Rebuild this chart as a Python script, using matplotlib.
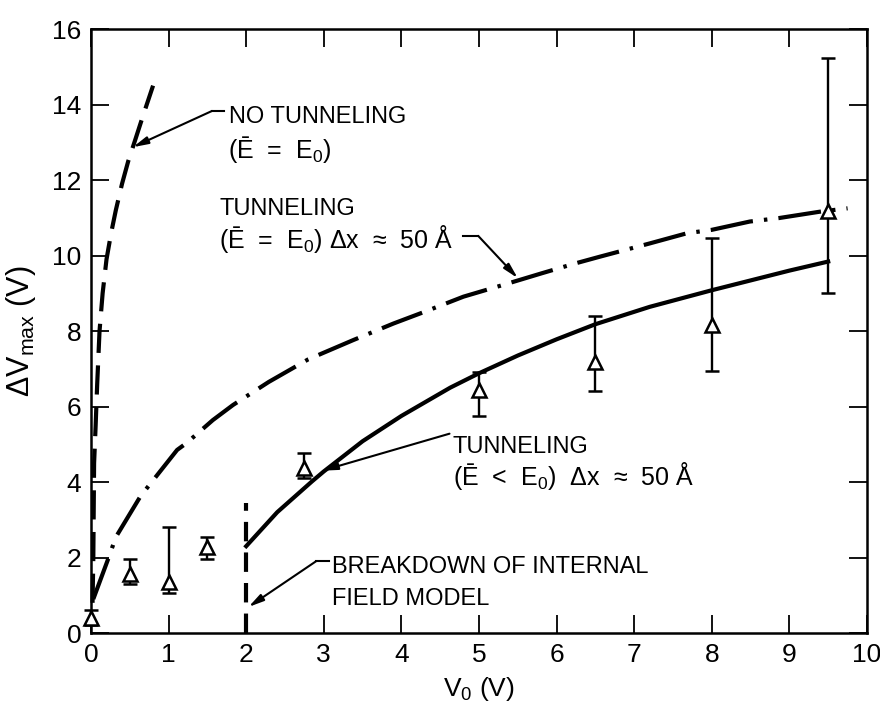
import matplotlib
matplotlib.use('Agg')
import matplotlib.pyplot as plt

plt.rcParams['font.family'] = ['Liberation Sans', 'DejaVu Sans']
plt.rcParams['lines.scale_dashes'] = False
plt.rcParams['mathtext.fontset'] = 'custom'
plt.rcParams['mathtext.rm'] = 'Liberation Sans'
plt.rcParams['mathtext.it'] = 'Liberation Sans'

# ---- measured points (V0, dVmax) with error bar limits ----
meas_v0 = [0.0, 0.5, 1.0, 1.5, 2.75, 5.0, 6.5, 8.0, 9.5]
meas_dv = [0.40, 1.57, 1.36, 2.27, 4.37, 6.44, 7.19, 8.16, 11.19]
meas_lo = [0.20, 1.29, 1.05, 1.97, 4.11, 5.75, 6.42, 6.95, 9.00]
meas_hi = [0.62, 1.97, 2.80, 2.55, 4.77, 6.92, 8.41, 10.46, 15.22]

# ---- no tunneling (E = E0), dashed ----
notun_v0 = [0.02, 0.03, 0.04, 0.06, 0.08, 0.11, 0.15, 0.20, 0.26, 0.32, 0.40, 0.48, 0.56, 0.67, 0.80]
notun_dv = [0.8, 2.0, 4.5, 5.5, 6.6, 8.0, 9.0, 9.9, 10.6, 11.2, 11.9, 12.5, 13.0, 13.7, 14.5]

# ---- tunneling (E = E0) dx ~ 50 A, dash-dot ----
tun_eq_v0 = [0.03, 0.23, 0.32, 0.64, 1.11, 1.23, 1.57, 1.83, 2.29, 2.8, 3.38, 3.9, 4.3, 4.8, 5.31,
             5.81, 6.24, 6.56, 7.2, 7.68, 8.0, 8.49, 8.86, 9.39, 9.75]
tun_eq_dv = [0.9, 2.01, 2.54, 3.63, 4.85, 5.03, 5.64, 6.04, 6.65, 7.25, 7.76, 8.2, 8.51, 8.91, 9.22,
             9.53, 9.79, 9.97, 10.32, 10.59, 10.68, 10.9, 10.99, 11.16, 11.25]

# ---- tunneling (E < E0) dx ~ 50 A, solid ----
tun_lt_v0 = [2.0, 2.4, 2.85, 3.0, 3.5, 4.0, 4.63, 5.0, 5.5, 6.0, 6.5, 7.2, 8.0, 9.0, 9.5]
tun_lt_dv = [2.3, 3.2, 4.02, 4.28, 5.08, 5.75, 6.5, 6.88, 7.35, 7.78, 8.18, 8.64, 9.08, 9.6, 9.84]

# ---- breakdown of internal field model ----
brk_v0 = [2.0, 2.0]
brk_dv = [0.0, 3.45]

xticks = list(range(0, 11))
yticks = list(range(0, 17, 2))

FS = 18      # formula lines
FSC = 17     # all-caps annotation lines
FST = 19     # tick labels

fig = plt.figure(figsize=(8.8, 7.13), dpi=100)
ax = fig.add_axes([0.1034, 0.1122, 0.8818, 0.8471])
ax.set_xlim(0, 10)
ax.set_ylim(0, 16)

dash_style = (0, (21, 9))
dashdot_style = (0, (31, 8, 2.5, 8))

ax.plot(notun_v0, notun_dv, color='black', lw=3.0, linestyle=dash_style, clip_on=False)
ax.plot(tun_eq_v0, tun_eq_dv, color='black', lw=3.0, linestyle=dashdot_style)
ax.plot(tun_lt_v0, tun_lt_dv, color='black', lw=3.0, linestyle='-')
ax.plot(brk_v0, brk_dv, color='black', lw=3.0, linestyle=(0, (14, 8)))

yerr_lo = [d - l for d, l in zip(meas_dv, meas_lo)]
yerr_hi = [h - d for d, h in zip(meas_dv, meas_hi)]
ax.errorbar(meas_v0, meas_dv, yerr=[yerr_lo, yerr_hi], fmt='^', color='black',
            markerfacecolor='white', markeredgecolor='black', markersize=10,
            markeredgewidth=1.8, elinewidth=1.7, capsize=5, capthick=2.2,
            ecolor='black', clip_on=False, zorder=5)

# spines and ticks
for s in ax.spines.values():
    s.set_linewidth(1.8)
ax.set_xticks(xticks)
ax.set_yticks(yticks)
ax.tick_params(axis='both', which='major', direction='in', length=13, width=1.3,
               labelsize=FST, pad=7, top=True, right=True)
ax.set_xticklabels([str(v) for v in xticks])
ax.set_yticklabels([str(v) for v in yticks])

ax.set_xlabel('V$_\\mathregular{0}$ (V)', fontsize=FST, labelpad=6)
ax.set_ylabel('ΔV$_\\mathregular{max}$ (V)', fontsize=22, labelpad=10)

E0 = 'E$_\\mathregular{0}$'
# annotations
ax.text(1.78, 13.51, 'NO TUNNELING', fontsize=FSC, va='baseline', ha='left')
ax.text(1.77, 12.58, '(Ē  =  ' + E0 + ')', fontsize=FS, va='baseline', ha='left')
ax.text(1.66, 11.07, 'TUNNELING', fontsize=FSC, va='baseline', ha='left')
ax.text(1.65, 10.20, '(Ē  =  ' + E0 + ') Δx  ≈  50 Å', fontsize=FS, va='baseline', ha='left')
ax.text(4.66, 4.77, 'TUNNELING', fontsize=FSC, va='baseline', ha='left')
ax.text(4.66, 3.92, '(Ē  <  ' + E0 + ')  Δx  ≈  50 Å', fontsize=FS, va='baseline', ha='left')
ax.text(3.11, 1.59, 'BREAKDOWN OF INTERNAL', fontsize=FSC, va='baseline', ha='left')
ax.text(3.11, 0.74, 'FIELD MODEL', fontsize=FSC, va='baseline', ha='left')

arrow_kw = dict(arrowstyle='-|>,head_length=0.9,head_width=0.22', color='black', lw=1.5,
                shrinkA=0, shrinkB=0)

# NO TUNNELING leader
ax.plot([1.56, 1.71], [13.83, 13.83], color='black', lw=1.5)
ax.annotate('', xy=(0.54, 12.87), xytext=(1.56, 13.83), arrowprops=arrow_kw)
# TUNNELING (E=E0) leader
ax.plot([4.79, 4.99], [10.52, 10.52], color='black', lw=1.5)
ax.annotate('', xy=(5.5, 9.4), xytext=(4.99, 10.52), arrowprops=arrow_kw)
# TUNNELING (E<E0) leader
ax.annotate('', xy=(2.98, 4.3), xytext=(4.62, 5.28), arrowprops=arrow_kw)
# BREAKDOWN leader
ax.plot([2.9, 3.07], [1.9, 1.9], color='black', lw=1.5)
ax.annotate('', xy=(2.03, 0.69), xytext=(2.9, 1.9), arrowprops=arrow_kw)

fig.savefig('out.png', dpi=100)
